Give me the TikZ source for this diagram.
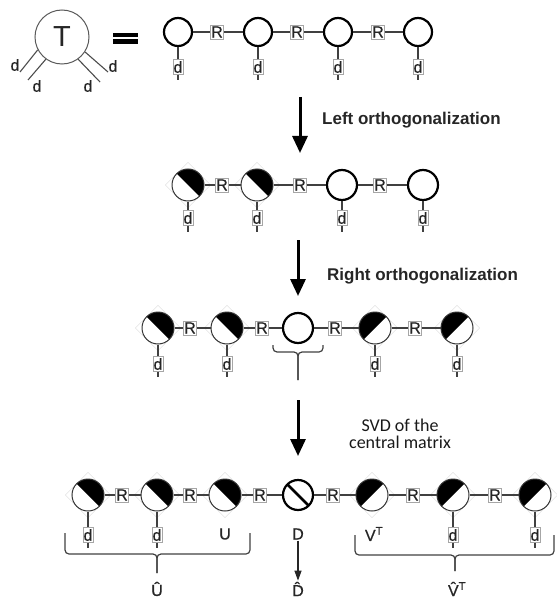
\documentclass[tikz,border=0pt]{standalone}
\usepackage{fontspec}
\setmainfont{Liberation Sans}
\newfontfamily\notefont{Carlito}
\newfontfamily\lblfam[FakeBold=0.6]{Liberation Sans}
\usetikzlibrary{arrows.meta}
\newcommand\lblfont{\lblfam\fontsize{16}{16}\selectfont}
\begin{document}
\begin{tikzpicture}[x=1pt,y=-1pt,
  txt/.style={text=black!85},
  site/.style={circle, draw=black, line width=2.2pt, minimum size=#1, inner sep=0pt, fill=white},
  site/.default=28pt,
  lsite/.style={circle, draw=black!80, line width=1pt, minimum size=32pt, inner sep=0pt, fill=white,
    path picture={\fill[black] (path picture bounding box.north west) -- (path picture bounding box.north east)
      -- (path picture bounding box.south east) -- cycle;}},
  rsite/.style={circle, draw=black!80, line width=1pt, minimum size=32pt, inner sep=0pt, fill=white,
    path picture={\fill[black] (path picture bounding box.south west) -- (path picture bounding box.north west)
      -- (path picture bounding box.north east) -- cycle;}},
  dsite/.style={circle, draw=black, line width=2.2pt, minimum size=30pt, inner sep=0pt, fill=white,
    path picture={\draw[line width=2.6pt] (path picture bounding box.north west) -- (path picture bounding box.south east);}},
  halo/.style={draw=black!15, line width=0.4pt},
  lbox/.style={draw=black!35, line width=0.5pt, fill=white, inner xsep=0.8pt, inner ysep=1.5pt, font=\lblfont, txt},
  plain/.style={inner sep=1pt, font=\lblfont, txt},
  bond/.style={draw=black!75, line width=1.2pt},
  bigarrow/.style={line width=3pt, -{Triangle[width=15pt,length=17pt]}},
  smallarrow/.style={line width=1.2pt, -{Triangle[width=7pt,length=10pt]}},
  brace/.style={draw=black!75, line width=1.2pt, rounded corners=4pt},
  stepnote/.style={font=\fontsize{17}{17}\selectfont\bfseries, txt, inner sep=0pt, anchor=base west},
]
\useasboundingbox (0,0) rectangle (556,604);

% ---------- the tensor T and its legs ----------
\node[circle, draw=black!65, line width=1pt, minimum size=54pt, inner sep=0pt,
      font=\fontsize{29}{29}\selectfont, txt] (T) at (62,37) {T};
\coordinate (tl1) at (20,72);  \coordinate (tl2) at (28,80);
\coordinate (tr1) at (108,72); \coordinate (tr2) at (100,82);
\draw[draw=black!70, line width=1.1pt] (T.208) -- (tl1);
\draw[draw=black!70, line width=1.1pt] (T.234) -- (tl2);
\draw[draw=black!70, line width=1.1pt] (T.327) -- (tr1);
\draw[draw=black!70, line width=1.1pt] (T.306) -- (tr2);
\node[plain] (tdl1) at (15,65) {d};
\node[plain] (tdl2) at (37,86) {d};
\node[plain] (tdr2) at (88,86) {d};
\node[plain] (tdr1) at (113,66) {d};

% equals sign
\draw[line width=4.5pt] (113,35) -- (138,35);
\draw[line width=4.5pt] (113,41.5) -- (138,41.5);

% ---------- row 1: plain MPS ----------
\foreach \i/\x in {1/178,2/258,3/338,4/418} {
  \node[site] (a\i) at (\x,32) {};
  \node[lbox] (ad\i) at (\x,67) {d};
  \coordinate (at\i) at (\x,80);
  \draw[bond] (a\i) -- (ad\i) -- (at\i);
}
\foreach \i/\x in {1/217,2/297,3/378} \node[lbox] (ar\i) at (\x,32) {R};
\draw[bond] (a1) -- (ar1) -- (a2) -- (ar2) -- (a3) -- (ar3) -- (a4);

% arrow 1
\coordinate (s1) at (300,97); \coordinate (e1) at (300,153);
\draw[bigarrow] (s1) -- (e1);
\node[stepnote] (n1) at (322,125) {Left orthogonalization};

% ---------- row 2: left orthogonalized ----------
\foreach \x in {188,257}
  \draw[halo] (\x,185) +(-22.6,0) -- +(0,-22.6) -- +(22.6,0) -- +(0,22.6) -- cycle;
\node[lsite] (b1) at (188,185) {};
\node[lsite] (b2) at (257,185) {};
\node[site=30pt] (b3) at (342,185) {};
\node[site=30pt] (b4) at (423,185) {};
\foreach \i/\x in {1/188,2/257,3/342,4/423} {
  \node[lbox] (bd\i) at (\x,218) {d};
  \coordinate (bt\i) at (\x,232);
  \draw[bond] (b\i) -- (bd\i) -- (bt\i);
}
\foreach \i/\x in {1/222,2/300,3/380} \node[lbox] (br\i) at (\x,185) {R};
\draw[bond] (b1) -- (br1) -- (b2) -- (br2) -- (b3) -- (br3) -- (b4);

% arrow 2
\coordinate (s2) at (298,240); \coordinate (e2) at (298,296);
\draw[bigarrow] (s2) -- (e2);
\node[stepnote] (n2) at (327,280) {Right orthogonalization};

% ---------- row 3: mixed canonical form ----------
\foreach \x in {158,227,375,457}
  \draw[halo] (\x,328) +(-22.6,0) -- +(0,-22.6) -- +(22.6,0) -- +(0,22.6) -- cycle;
\node[lsite] (c1) at (158,328) {};
\node[lsite] (c2) at (227,328) {};
\node[site=30pt] (c3) at (298,328) {};
\node[rsite] (c4) at (375,328) {};
\node[rsite] (c5) at (457,328) {};
\foreach \i/\x in {1/158,2/227,4/375,5/457} {
  \node[lbox] (cd\i) at (\x,364) {d};
  \coordinate (ct\i) at (\x,377);
  \draw[bond] (c\i) -- (cd\i) -- (ct\i);
}
\foreach \i/\x in {1/190,2/262,3/335,4/415} \node[lbox] (cr\i) at (\x,328) {R};
\draw[bond] (c1) -- (cr1) -- (c2) -- (cr2) -- (c3) -- (cr3) -- (c4) -- (cr4) -- (c5);
\draw[brace] (273,345) |- (298,352) -- (298,380);
\draw[brace] (323,345) |- (298,352) -- (298,380);

% arrow 3
\coordinate (s3) at (298,400); \coordinate (e3) at (298,456);
\draw[bigarrow] (s3) -- (e3);
\node[font=\notefont\fontsize{18}{18}\selectfont, text=black!90, align=center, inner sep=0pt] (n3) at (400,434)
  {SVD of the\\[-1pt]central matrix};

% ---------- row 4: after the SVD ----------
\foreach \x in {88,157,225,372,453,535}
  \draw[halo] (\x,495) +(-22.6,0) -- +(0,-22.6) -- +(22.6,0) -- +(0,22.6) -- cycle;
\node[lsite] (u1) at (88,495) {};
\node[lsite] (u2) at (157,495) {};
\node[lsite] (u3) at (225,495) {};
\node[dsite] (dd) at (298,495) {};
\node[rsite] (v1) at (372,495) {};
\node[rsite] (v2) at (453,495) {};
\node[rsite] (v3) at (535,495) {};
\foreach \n/\x in {u1/88,u2/157,v2/453,v3/535} {
  \node[lbox] (\n d) at (\x,535) {d};
  \coordinate (\n t) at (\x,548);
  \draw[bond] (\n) -- (\n d) -- (\n t);
}
\foreach \i/\x in {1/122,2/190,3/260,4/333,5/413,6/495} \node[lbox] (dr\i) at (\x,495) {R};
\draw[bond] (u1) -- (dr1) -- (u2) -- (dr2) -- (u3) -- (dr3) -- (dd) -- (dr4) -- (v1) -- (dr5) -- (v2) -- (dr6) -- (v3);

\node[plain] (ulbl) at (225,534) {U};
\node[plain] (dlbl) at (298,534) {D};
\node[plain] (vlbl) at (374,534) {V\textsuperscript{T}};

\draw[brace] (65,533) |- (157,554) -- (157,573);
\draw[brace] (250,533) |- (157,554) -- (157,573);
\draw[brace] (355,535) |- (455,555) -- (455,571);
\draw[brace] (554,535) |- (455,555) -- (455,571);

\node[plain] (uhat) at (157,589) {\^U};
\node[plain] (dhat) at (298,589) {\^D};
\node[plain] (vhat) at (457,589) {\^V\textsuperscript{T}};
\draw[smallarrow, draw=black!85] (dlbl) -- (dhat);
\end{tikzpicture}
\end{document}
